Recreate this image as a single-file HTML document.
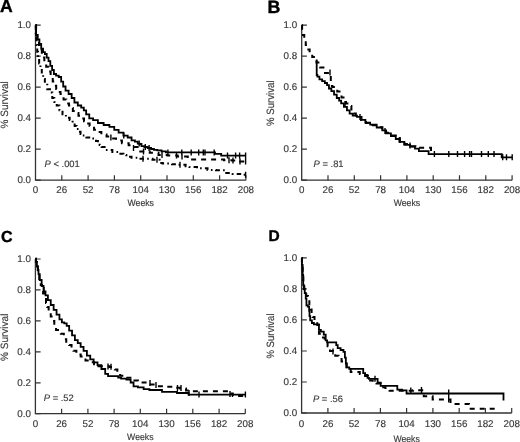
<!DOCTYPE html>
<html><head><meta charset="utf-8"><title>Survival curves</title>
<style>
html,body{margin:0;padding:0;background:#fff;}
body{width:520px;height:442px;overflow:hidden;}
svg{display:block;font-family:"Liberation Sans", sans-serif;filter:blur(0.3px);text-rendering:geometricPrecision;}
text{fill:#383838;stroke:#383838;stroke-width:0.15px;}
</style></head><body>
<svg width="520" height="442" viewBox="0 0 520 442">
<path d="M35.5 25.2V180.2H245.9" fill="none" stroke="#333" stroke-width="1.3"/>
<path d="M35.5 180.2h5.2M35.5 149.2h5.2M35.5 118.2h5.2M35.5 87.2h5.2M35.5 56.2h5.2M35.5 25.2h5.2M61.8 180.2v-5M88.1 180.2v-5M114.4 180.2v-5M140.7 180.2v-5M167.0 180.2v-5M193.3 180.2v-5M219.6 180.2v-5M245.9 180.2v-5" fill="none" stroke="#333" stroke-width="1.2"/>
<text x="31.0" y="182.7" text-anchor="end" font-size="9.8">0.0</text>
<text x="31.0" y="151.7" text-anchor="end" font-size="9.8">0.2</text>
<text x="31.0" y="120.7" text-anchor="end" font-size="9.8">0.4</text>
<text x="31.0" y="89.7" text-anchor="end" font-size="9.8">0.6</text>
<text x="31.0" y="58.7" text-anchor="end" font-size="9.8">0.8</text>
<text x="31.0" y="27.7" text-anchor="end" font-size="9.8">1.0</text>
<text x="35.5" y="192.6" text-anchor="middle" font-size="9.8">0</text>
<text x="61.8" y="192.6" text-anchor="middle" font-size="9.8">26</text>
<text x="88.1" y="192.6" text-anchor="middle" font-size="9.8">52</text>
<text x="114.4" y="192.6" text-anchor="middle" font-size="9.8">78</text>
<text x="140.7" y="192.6" text-anchor="middle" font-size="9.8">104</text>
<text x="167.0" y="192.6" text-anchor="middle" font-size="9.8">130</text>
<text x="193.3" y="192.6" text-anchor="middle" font-size="9.8">156</text>
<text x="219.6" y="192.6" text-anchor="middle" font-size="9.8">182</text>
<text x="245.9" y="192.6" text-anchor="middle" font-size="9.8">208</text>
<text x="140.7" y="206.4" text-anchor="middle" font-size="9.4" textLength="26.4" lengthAdjust="spacingAndGlyphs">Weeks</text>
<text transform="translate(7.6 104.8) rotate(-90)" text-anchor="middle" font-size="10.6" textLength="47.2" lengthAdjust="spacingAndGlyphs">% Survival</text>
<text x="0.0" y="12.4" font-size="17.6" font-weight="bold" style="fill:#000;stroke:#000;stroke-width:0.4px">A</text>
<text x="44.6" y="167.2" font-size="9.4"><tspan font-style="italic">P</tspan> &lt; .001</text>
<path d="M35.5 25.2H35.75V35.0H36.0H36.40V45.0H36.8H37.20V51.7H37.6H38.05V57.0H38.5H39.15V63.4H39.8H40.45V68.2H41.1H41.80V73.6H42.5H43.15V79.0H43.8H44.85V83.1H45.9H47.25V89.2H48.6H49.95V92.6H51.3H52.30V98.0H53.3H54.35V102.1H55.4H56.75V105.5H58.1H59.45V110.3H60.8H62.50V114.3H64.2H65.90V117.7H67.6H69.65V120.0H71.7H72.60V123.0H73.5H74.65V126.0H75.8H76.65V129.0H77.5H78.55V131.7H79.6H80.55V134.0H81.5H82.50V135.6H83.5H86.35V137.5H89.2H92.10V138.5H95.0H96.00V141.0H97.0H97.90V143.3H98.8H99.65V145.0H100.5H101.60V147.1H102.7H105.60V150.0H108.5H112.35V151.9H116.2H119.05V153.8H121.9H123.45V155.0H125.0H126.35V156.7H127.7H131.55V157.7H135.4H138.20V158.7H141.0H150.0H152.50V159.7H155.0H159.0H159.60V162.9H160.2H162.60V163.6H165.0H171.0H172.00V164.3H173.0H178.0H178.25V164.8H178.5H185.0H185.60V166.3H186.2H189.0H189.50V167.1H190.0H197.00V168.3H204.0H207.50V170.0H211.0H216.00V170.3H221.0H224.80V172.9H228.6H232.65V174.0H236.7H241.35V174.7H246.0" fill="none" stroke="#000" stroke-width="2" stroke-dasharray="4.5 3.2 1.6 3.2"/>
<path d="M35.5 25.2H36.10V35.0H36.7H37.35V40.0H38.0H39.00V45.0H40.0H40.60V50.0H41.2H41.85V54.0H42.5H43.00V57.6H43.5H44.35V62.7H45.2H46.20V66.8H47.2H48.25V71.5H49.3H50.65V77.7H52.0H52.75V81.5H53.5H54.45V85.8H55.4H56.20V89.0H57.0H57.90V91.9H58.8H60.50V94.0H62.2H63.55V99.4H64.9H66.25V103.5H67.6H68.95V105.5H70.3H71.15V108.0H72.0H72.85V111.0H73.7H75.40V113.0H77.1H78.45V115.7H79.8H81.20V118.4H82.6H84.00V121.2H85.4H86.70V123.5H88.0H89.60V126.0H91.2H94.05V129.8H96.9H98.45V132.0H100.0H101.35V134.6H102.7H106.55V136.5H110.4H112.20V138.5H114.0H116.00V140.4H118.0H121.90V143.3H125.8H128.65V145.2H131.5H134.40V147.1H137.3H139.15V151.4H141.0H148.0H149.75V152.8H151.5H157.0H158.50V155.0H160.0H167.0H167.50V155.5H168.0H176.0H177.50V156.6H179.0H187.0H187.75V159.6H188.5H222.0H224.00V160.3H226.0H232.00V160.5H238.0H239.00V161.5H240.0H246.0" fill="none" stroke="#000" stroke-width="2" stroke-dasharray="5 5"/>
<path d="M35.5 25.2H36.10V35.0H36.7H37.60V39.5H38.5H39.40V44.0H40.3H41.20V48.6H42.1H43.05V52.2H44.0H44.90V54.0H45.8H46.70V57.6H47.6H48.50V61.2H49.4H50.30V65.8H51.2H52.10V70.0H53.0H53.85V74.0H54.7H56.05V75.6H57.4H58.75V77.0H60.1H61.15V81.7H62.2H63.20V86.5H64.2H65.55V90.6H66.9H68.60V94.0H70.3H71.65V98.0H73.0H74.40V102.5H75.8H77.80V105.5H79.8H81.20V107.6H82.6H83.80V110.3H85.0H86.15V114.4H87.3H89.25V118.3H91.2H93.10V120.2H95.0H97.90V123.0H100.8H103.65V125.0H106.5H109.40V126.9H112.3H114.25V129.8H116.2H118.60V132.7H121.0H123.40V135.6H125.8H127.70V137.5H129.6H131.55V140.4H133.5H134.90V141.7H136.3H137.75V143.6H139.2H139.60V144.0H140.0H141.45V146.1H142.9H144.35V147.0H145.8H147.70V148.0H149.6H151.05V149.0H152.5H153.95V149.9H155.4H157.30V150.4H159.2H161.60V151.3H164.0H165.95V152.4H167.9H215.0V153.9H221.2V155.6H246.0" fill="none" stroke="#000" stroke-width="1.8"/>
<path d="M145.3 144.0v6.0M149.1 145.0v6.0M167.9 149.4v6.0M181.8 149.4v6.0M191.2 149.4v6.0M198.7 149.4v6.0M203.3 149.4v6.0M205.0 149.4v6.0M214.2 149.4v6.0M227.5 152.6v6.0M235.6 152.6v6.0M239.6 152.6v6.0M245.6 152.6v6.0M123.8 132.5v6.0M139.2 140.6v6.0M143.5 148.4v6.0M162.0 152.0v6.0M176.5 152.5v6.0M182.0 153.6v6.0M229.0 157.3v6.0M233.0 157.5v6.0M240.0 158.5v6.0M245.6 158.5v6.0M110.9 134.5v6.0M133.5 145.0v6.0M143.0 155.7v6.0M157.0 156.7v6.0M180.0 161.8v6.0M245.6 171.7v6.0" fill="none" stroke="#000" stroke-width="1.4"/>
<path d="M301.7 25.2V180.2H512.1" fill="none" stroke="#333" stroke-width="1.3"/>
<path d="M301.7 180.2h5.2M301.7 149.2h5.2M301.7 118.2h5.2M301.7 87.2h5.2M301.7 56.2h5.2M301.7 25.2h5.2M328.0 180.2v-5M354.3 180.2v-5M380.6 180.2v-5M406.9 180.2v-5M433.2 180.2v-5M459.5 180.2v-5M485.8 180.2v-5M512.1 180.2v-5" fill="none" stroke="#333" stroke-width="1.2"/>
<text x="297.2" y="182.7" text-anchor="end" font-size="9.8">0.0</text>
<text x="297.2" y="151.7" text-anchor="end" font-size="9.8">0.2</text>
<text x="297.2" y="120.7" text-anchor="end" font-size="9.8">0.4</text>
<text x="297.2" y="89.7" text-anchor="end" font-size="9.8">0.6</text>
<text x="297.2" y="58.7" text-anchor="end" font-size="9.8">0.8</text>
<text x="297.2" y="27.7" text-anchor="end" font-size="9.8">1.0</text>
<text x="301.7" y="192.6" text-anchor="middle" font-size="9.8">0</text>
<text x="328.0" y="192.6" text-anchor="middle" font-size="9.8">26</text>
<text x="354.3" y="192.6" text-anchor="middle" font-size="9.8">52</text>
<text x="380.6" y="192.6" text-anchor="middle" font-size="9.8">78</text>
<text x="406.9" y="192.6" text-anchor="middle" font-size="9.8">104</text>
<text x="433.2" y="192.6" text-anchor="middle" font-size="9.8">130</text>
<text x="459.5" y="192.6" text-anchor="middle" font-size="9.8">156</text>
<text x="485.8" y="192.6" text-anchor="middle" font-size="9.8">182</text>
<text x="512.1" y="192.6" text-anchor="middle" font-size="9.8">208</text>
<text x="406.9" y="206.4" text-anchor="middle" font-size="9.4" textLength="26.4" lengthAdjust="spacingAndGlyphs">Weeks</text>
<text transform="translate(273.8 103.2) rotate(-90)" text-anchor="middle" font-size="10.6" textLength="45.6" lengthAdjust="spacingAndGlyphs">% Survival</text>
<text x="267.6" y="12.6" font-size="17.8" font-weight="bold" style="fill:#000;stroke:#000;stroke-width:0.4px">B</text>
<text x="313.6" y="166.7" font-size="9.4"><tspan font-style="italic">P</tspan> = .81</text>
<path d="M301.7 25.2H302.10V30.0H302.5H303.00V35.0H303.5H304.25V40.0H305.0H305.75V45.0H306.5H307.40V49.5H308.3H309.65V53.5H311.0H312.25V57.0H313.5H315.00V60.0H316.5V62.5H320.2V67.5H325.0V73.0H330.8V86.0H332.40V87.0H334.0H335.00V88.5H336.0H337.25V91.5H338.5H339.50V94.3H340.5H341.50V97.5H342.5H343.50V100.5H344.5H346.00V103.5H347.5H348.90V105.9H350.3H351.40V109.5H352.5H353.60V113.6H354.7H355.85V115.5H357.0H358.10V116.9H359.2H361.10V120.0H363.0H365.90V123.0H368.8H371.70V125.2H374.6H377.50V127.2H380.4H382.30V130.0H384.2H386.10V132.8H388.0H390.90V135.6H393.8H395.75V138.3H397.7H399.60V141.2H401.5H404.40V144.0H407.3H410.15V146.2H413.0H415.50V147.8H418.0H431.0V153.7" fill="none" stroke="#000" stroke-width="2" stroke-dasharray="5 5"/>
<path d="M316.7 59.5V75.0H317.40V76.7H318.1H319.45V79.4H320.8H322.15V81.2H323.5H324.85V83.0H326.2H327.05V85.1H327.9H328.95V88.5H330.0H331.35V91.2H332.7H334.05V94.6H335.4H336.75V98.0H338.1H339.10V100.7H340.1H341.15V103.4H342.2H343.90V106.9H345.6H346.95V110.3H348.3H349.65V113.7H351.0H352.70V115.7H354.4H357.00V116.9H359.6H361.55V119.8H363.5H365.40V122.7H367.3H370.15V124.6H373.0H376.70V127.5H380.4H382.30V130.4H384.2H386.10V133.3H388.0H390.90V136.2H393.8H395.75V139.0H397.7H399.60V141.9H401.5H404.40V144.8H407.3H410.15V146.7H413.0H415.00V148.7H417.0H418.90V151.2H420.8H428.6V154.1H501.7V157.3H512.2" fill="none" stroke="#000" stroke-width="1.8"/>
<path d="M434.4 151.1v6.0M448.8 151.1v6.0M457.5 151.1v6.0M464.6 151.1v6.0M469.6 151.1v6.0M471.5 151.1v6.0M481.5 151.1v6.0M488.3 151.1v6.0M494.0 151.1v6.0M502.7 154.3v6.0M506.5 154.3v6.0M512.2 154.3v6.0M330.0 69.5v6.0M345.0 101.0v6.0M360.0 114.0v6.0M385.0 128.0v6.0M400.0 137.0v6.0M410.0 142.5v6.0" fill="none" stroke="#000" stroke-width="1.4"/>
<path d="M35.4 259.0V413.7H245.3" fill="none" stroke="#333" stroke-width="1.3"/>
<path d="M35.4 413.7h5.2M35.4 382.8h5.2M35.4 351.8h5.2M35.4 320.9h5.2M35.4 289.9h5.2M35.4 259.0h5.2M61.6 413.7v-5M87.9 413.7v-5M114.1 413.7v-5M140.3 413.7v-5M166.6 413.7v-5M192.8 413.7v-5M219.1 413.7v-5M245.3 413.7v-5" fill="none" stroke="#333" stroke-width="1.2"/>
<text x="30.9" y="416.6" text-anchor="end" font-size="9.8">0.0</text>
<text x="30.9" y="385.7" text-anchor="end" font-size="9.8">0.2</text>
<text x="30.9" y="354.7" text-anchor="end" font-size="9.8">0.4</text>
<text x="30.9" y="323.8" text-anchor="end" font-size="9.8">0.6</text>
<text x="30.9" y="292.8" text-anchor="end" font-size="9.8">0.8</text>
<text x="30.9" y="261.9" text-anchor="end" font-size="9.8">1.0</text>
<text x="35.4" y="427.0" text-anchor="middle" font-size="9.8">0</text>
<text x="61.6" y="427.0" text-anchor="middle" font-size="9.8">26</text>
<text x="87.9" y="427.0" text-anchor="middle" font-size="9.8">52</text>
<text x="114.1" y="427.0" text-anchor="middle" font-size="9.8">78</text>
<text x="140.3" y="427.0" text-anchor="middle" font-size="9.8">104</text>
<text x="166.6" y="427.0" text-anchor="middle" font-size="9.8">130</text>
<text x="192.8" y="427.0" text-anchor="middle" font-size="9.8">156</text>
<text x="219.1" y="427.0" text-anchor="middle" font-size="9.8">182</text>
<text x="245.3" y="427.0" text-anchor="middle" font-size="9.8">208</text>
<text x="140.3" y="439.9" text-anchor="middle" font-size="9.4" textLength="26.4" lengthAdjust="spacingAndGlyphs">Weeks</text>
<text transform="translate(7.9 337.3) rotate(-90)" text-anchor="middle" font-size="10.6" textLength="47.3" lengthAdjust="spacingAndGlyphs">% Survival</text>
<text x="0.9" y="242.4" font-size="16" font-weight="bold" style="fill:#000;stroke:#000;stroke-width:0.4px">C</text>
<text x="43.8" y="400.8" font-size="9.4"><tspan font-style="italic">P</tspan> = .52</text>
<path d="M35.4 258.7H35.95V262.0H36.5H36.90V266.5H37.3H37.90V272.0H38.5H39.25V279.0H40.0H40.75V285.0H41.5H42.05V289.6H42.6H43.10V293.5H43.6H44.55V297.3H45.5H46.00V303.0H46.5H47.25V307.0H48.0H48.65V310.8H49.3H50.75V316.5H52.2H52.85V321.0H53.5H54.30V326.2H55.1H56.05V330.0H57.0H58.00V332.9H59.0H60.90V333.8H62.8H63.80V339.2H64.8H66.25V343.1H67.7H69.15V345.0H70.6H71.55V348.0H72.5H73.45V350.8H74.4H76.35V354.6H78.3H80.70V356.5H83.1H85.50V360.4H87.9H89.80V362.3H91.7H94.10V364.2H96.5H98.45V366.2H100.4H105.2H109.50V367.1H113.8H114.90V369.5H116.0H117.35V371.9H118.7H120.10V375.8H121.5H123.45V377.7H125.4H131.2H133.10V380.6H135.0H137.90V382.5H140.8H145.6H147.05V383.0H148.5H150.60V384.5H152.7H156.95V386.2H161.2H165.40V386.8H169.6H172.80V387.8H176.0H180.20V388.5H184.4H186.05V390.4H187.7H191.5H192.25V391.2H193.0H229.0H230.00V393.6H231.0H232.80V396.0H234.6H245.4" fill="none" stroke="#000" stroke-width="2" stroke-dasharray="5 5"/>
<path d="M35.4 258.7H35.95V262.0H36.5H36.90V266.5H37.3H37.75V270.0H38.2H38.50V274.2H38.8H39.75V280.0H40.7H41.65V285.8H42.6H43.55V291.5H44.5H45.50V295.4H46.5H47.90V300.2H49.3H50.75V305.0H52.2H53.65V309.8H55.1H56.55V314.6H58.0H59.45V319.4H60.9H61.85V322.3H62.8H64.25V323.3H65.7H66.70V325.8H67.7H69.15V330.6H70.6H72.05V335.4H73.5H74.90V340.2H76.3H77.75V343.1H79.2H80.65V346.9H82.1H83.55V350.8H85.0H86.90V355.6H88.8H90.25V359.4H91.7H93.65V362.3H95.6H97.50V365.2H99.4H101.35V369.0H103.3H105.20V373.8H107.1H108.05V376.2H109.0H117.7H118.20V377.7H118.7H121.10V378.7H123.5H126.35V379.6H129.2H130.65V382.5H132.1H133.55V386.3H135.0H137.90V387.3H140.8H143.65V389.2H146.5H149.40V390.0H152.3H162.0V391.8H177.0V393.0H188.5V394.6H245.4" fill="none" stroke="#000" stroke-width="1.8"/>
<path d="M44.0 287.0v6.0M108.0 363.5v6.0M111.0 363.8v6.0M177.5 385.0v6.0M181.0 385.0v6.0M189.0 390.0v6.0M199.0 391.6v6.0M230.0 391.0v6.0M245.4 391.6v6.0M150.0 380.0v6.0M156.0 382.0v6.0" fill="none" stroke="#000" stroke-width="1.4"/>
<path d="M301.6 257.9V413.0H511.7" fill="none" stroke="#333" stroke-width="1.3"/>
<path d="M301.6 413.0h5.2M301.6 382.0h5.2M301.6 351.0h5.2M301.6 319.9h5.2M301.6 288.9h5.2M301.6 257.9h5.2M327.9 413.0v-5M354.1 413.0v-5M380.4 413.0v-5M406.6 413.0v-5M432.9 413.0v-5M459.2 413.0v-5M485.4 413.0v-5M511.7 413.0v-5" fill="none" stroke="#333" stroke-width="1.2"/>
<text x="297.1" y="415.9" text-anchor="end" font-size="9.8">0.0</text>
<text x="297.1" y="384.9" text-anchor="end" font-size="9.8">0.2</text>
<text x="297.1" y="353.9" text-anchor="end" font-size="9.8">0.4</text>
<text x="297.1" y="322.8" text-anchor="end" font-size="9.8">0.6</text>
<text x="297.1" y="291.8" text-anchor="end" font-size="9.8">0.8</text>
<text x="297.1" y="260.8" text-anchor="end" font-size="9.8">1.0</text>
<text x="301.6" y="426.8" text-anchor="middle" font-size="9.8">0</text>
<text x="327.9" y="426.8" text-anchor="middle" font-size="9.8">26</text>
<text x="354.1" y="426.8" text-anchor="middle" font-size="9.8">52</text>
<text x="380.4" y="426.8" text-anchor="middle" font-size="9.8">78</text>
<text x="406.6" y="426.8" text-anchor="middle" font-size="9.8">104</text>
<text x="432.9" y="426.8" text-anchor="middle" font-size="9.8">130</text>
<text x="459.2" y="426.8" text-anchor="middle" font-size="9.8">156</text>
<text x="485.4" y="426.8" text-anchor="middle" font-size="9.8">182</text>
<text x="511.7" y="426.8" text-anchor="middle" font-size="9.8">208</text>
<text x="406.6" y="441.9" text-anchor="middle" font-size="9.4" textLength="26.4" lengthAdjust="spacingAndGlyphs">Weeks</text>
<text transform="translate(274.1 336.0) rotate(-90)" text-anchor="middle" font-size="10.6" textLength="45.0" lengthAdjust="spacingAndGlyphs">% Survival</text>
<text x="268.4" y="240.5" font-size="15.5" font-weight="bold" style="fill:#000;stroke:#000;stroke-width:0.4px">D</text>
<text x="313.0" y="401.7" font-size="9.4"><tspan font-style="italic">P</tspan> = .56</text>
<path d="M301.6 257.9H301.95V265.0H302.3H302.65V275.0H303.0H303.30V285.0H303.6H304.30V292.0H305.0H306.25V296.0H307.5H308.00V300.0H308.5H309.35V307.4H310.2H310.60V309.4H311.0H311.60V313.5H312.2H312.60V317.0H313.0H314.50V320.0H316.0H317.25V325.0H318.5H318.95V333.7H319.4H320.85V337.5H322.3H324.70V341.3H327.1H327.60V346.2H328.1H330.00V351.0H331.9H332.85V351.9H333.8H335.25V355.8H336.7H338.65V357.7H340.6H341.55V361.5H342.5H343.45V363.5H344.4H346.35V367.3H348.3H350.70V372.1H353.1H356.9H359.80V374.0H362.7H365.10V376.0H367.5H368.00V380.4H368.5H372.3H372.65V383.0H373.0H376.50V383.5H380.0H380.75V387.3H381.5H385.35V388.0H389.2H389.60V390.8H390.0H404.6H413.05V390.3H421.5H423.75V396.3H426.0H432.3H432.65V399.6H433.0H450.0H450.50V403.9H451.0H468.1H469.05V408.8H470.0H496.0" fill="none" stroke="#000" stroke-width="2" stroke-dasharray="5 5"/>
<path d="M301.6 257.9H301.95V265.0H302.3H302.65V275.0H303.0H303.20V285.0H303.4H303.75V289.0H304.1H304.75V293.0H305.4H305.75V298.6H306.1H306.45V305.4H306.8H307.80V306.7H308.8H309.15V310.8H309.5V316.2H310.20V320.3H310.9H311.90V323.0H312.9H313.90V324.3H314.9H318.5H318.95V329.8H319.4H320.85V331.7H322.3H323.75V334.6H325.2H325.70V340.4H326.2H327.15V342.3H328.1H335.8H336.25V345.2H336.7H337.70V348.1H338.7H340.60V350.0H342.5H343.45V351.9H344.4H344.90V357.7H345.4H345.85V363.5H346.3H346.80V367.3H347.3H349.25V368.8H351.2H362.7H363.20V373.1H363.7H365.10V375.0H366.5H367.50V377.9H368.5H368.95V378.8H369.4H377.1H377.60V382.7H378.1H380.5H380.65V385.8H380.8H396.9H397.30V389.6H397.7H401.95V390.4H406.2H406.55V393.5H406.9H503.5V400.5" fill="none" stroke="#000" stroke-width="1.8"/>
<path d="M448.7 389.5v13.0M410.8 387.4v6.0M421.5 387.0v6.0M333.0 348.5v6.0M375.0 375.8v6.0" fill="none" stroke="#000" stroke-width="1.4"/>
</svg>
</body></html>
